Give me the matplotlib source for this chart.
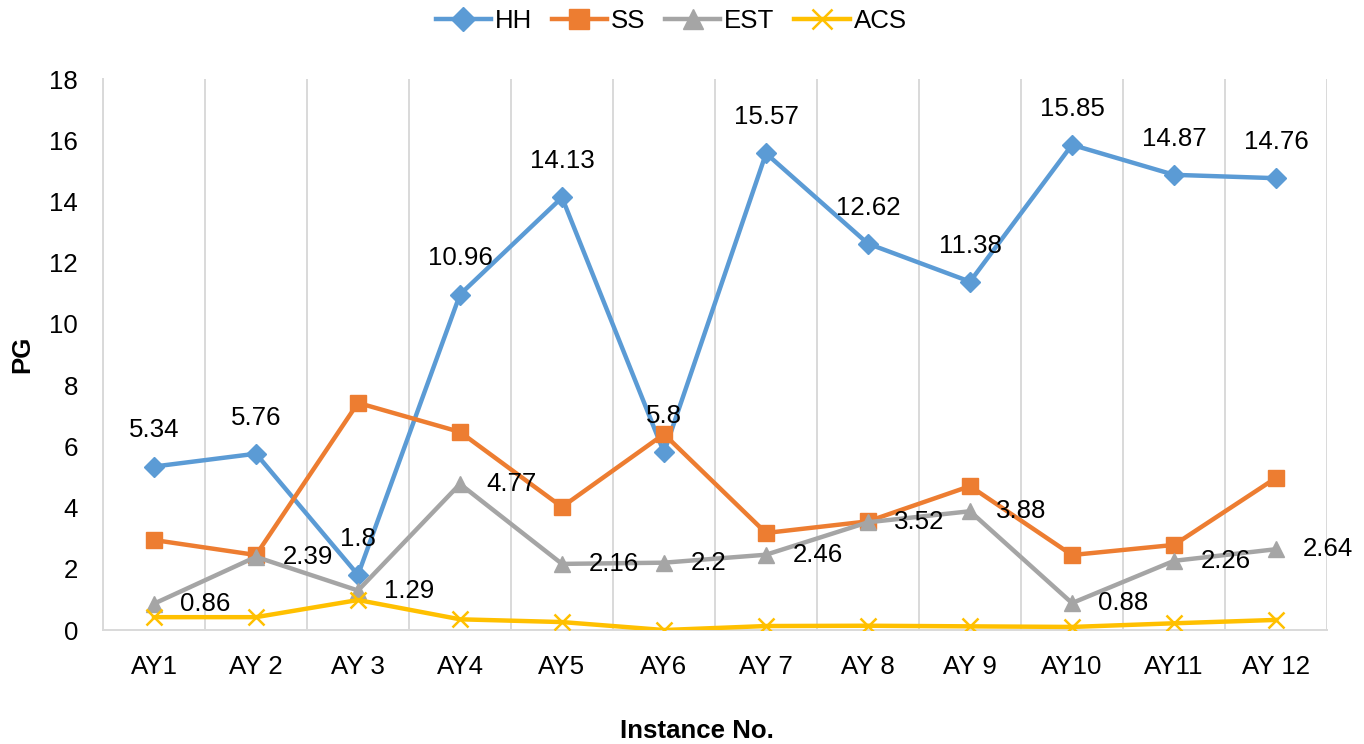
import matplotlib
matplotlib.use("Agg")
import matplotlib.pyplot as plt
from matplotlib.ticker import MultipleLocator, FixedLocator

plt.rcParams['font.family'] = ['Liberation Sans', 'DejaVu Sans']

categories = ["AY1", "AY 2", "AY 3", "AY4", "AY5", "AY6",
              "AY 7", "AY 8", "AY 9", "AY10", "AY11", "AY 12"]
hh = [5.34, 5.76, 1.8, 10.96, 14.13, 5.8, 15.57, 12.62, 11.38, 15.85, 14.87, 14.76]
ss = [2.94, 2.45, 7.42, 6.47, 4.02, 6.4, 3.17, 3.55, 4.7, 2.45, 2.78, 4.97]
est = [0.86, 2.39, 1.29, 4.77, 2.16, 2.2, 2.46, 3.52, 3.88, 0.88, 2.26, 2.64]
acs = [0.42, 0.42, 0.98, 0.35, 0.26, 0.0, 0.13, 0.14, 0.12, 0.1, 0.22, 0.33]

FS = 18.6
fig = plt.figure(figsize=(13.64, 7.44), dpi=100)
ax = fig.add_axes([0.0755, 0.1532, 0.8974, 0.7406])

x = list(range(len(categories)))
lw = 3.2
ax.plot(x, hh, color="#5B9BD5", lw=lw, marker="D", ms=10.5, label="HH", zorder=3)
ax.plot(x, ss, color="#ED7D31", lw=lw, marker="s", ms=11.5, label="SS", zorder=4)
ax.plot(x, est, color="#A5A5A5", lw=lw, marker="^", ms=12, label="EST", zorder=5)
ax.plot(x, acs, color="#FFC000", lw=lw, marker="x", ms=12, mew=1.8, label="ACS", zorder=6)

# value labels: HH above its points, EST to the right of its points
for xi, v in zip(x, hh):
    ax.annotate(f"{v:g}", (xi, v), xytext=(0, 26), textcoords="offset points",
                ha="center", va="center", fontsize=FS, zorder=7)
for xi, v in zip(x, est):
    ax.annotate(f"{v:g}", (xi, v), xytext=(19, 0), textcoords="offset points",
                ha="left", va="center", fontsize=FS, zorder=7)

ax.set_xlim(-0.5, len(categories) - 0.5)
ax.set_ylim(0, 18)
ax.yaxis.set_major_locator(MultipleLocator(2))
ax.set_xticks(x)
ax.set_xticklabels(categories)
ax.xaxis.set_minor_locator(FixedLocator([i + 0.5 for i in range(-1, len(categories))]))
ax.grid(which="minor", axis="x", color="#D9D9D9", lw=1.4)
ax.tick_params(axis="both", which="both", length=0, labelsize=FS)
ax.tick_params(axis="x", pad=18)
ax.tick_params(axis="y", pad=18)

for side in ["top", "right"]:
    ax.spines[side].set_visible(False)
for side in ["left", "bottom"]:
    ax.spines[side].set_color("#D9D9D9")
    ax.spines[side].set_linewidth(1.4)

ax.set_ylabel("PG", fontsize=FS, fontweight="bold")
ax.yaxis.set_label_coords(-0.056, 0.5)
ax.set_xlabel("Instance No.", fontsize=FS, fontweight="bold")
ax.xaxis.set_label_coords(0.485, -0.162)

fig.legend(loc="center", bbox_to_anchor=(0.492, 0.972), ncol=4, frameon=False,
           fontsize=FS, handlelength=2.15, columnspacing=0.75, handletextpad=0.15,
           markerscale=1.2)

fig.savefig("out.png", dpi=100)
